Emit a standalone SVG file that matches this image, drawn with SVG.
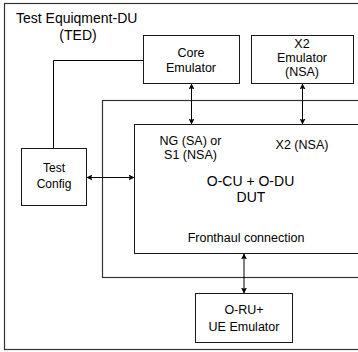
<svg xmlns="http://www.w3.org/2000/svg" width="358" height="352" viewBox="0 0 358 352">
<defs>
<style>
.box{fill:#fff;stroke:#1a1a1a;stroke-width:1}
.frame{fill:none;stroke:#333;stroke-width:1.2}
.t{font-family:"Liberation Sans",Arial,sans-serif;font-size:12.5px;fill:#000;text-anchor:middle}
.big{font-size:14px}
.ln{fill:none;stroke:#000;stroke-width:1}
</style>
<marker id="ah" viewBox="0 0 10 10" refX="9" refY="5" markerWidth="6" markerHeight="6" orient="auto-start-reverse" markerUnits="userSpaceOnUse">
<path d="M0,0 L10,5 L0,10 L2,5 z" fill="#000"/>
</marker>
</defs>
<rect width="358" height="352" fill="#fff"/>
<g id="ted">
<rect class="frame" x="4.5" y="3.5" width="360" height="346"/>
<text class="t big" x="16" y="23" style="text-anchor:start">Test Equiqment-DU</text>
<text class="t big" x="78" y="40">(TED)</text>
</g>
<g id="frame">
<rect class="frame" x="102.5" y="100.5" width="270" height="177"/>
</g>
<g id="core">
<rect class="box" x="143.5" y="35.5" width="96" height="48"/>
<text class="t" x="191" y="57">Core</text>
<text class="t" x="191" y="72">Emulator</text>
</g>
<g id="x2emu">
<rect class="box" x="251.5" y="35.5" width="102" height="48"/>
<text class="t" x="302" y="48">X2</text>
<text class="t" x="302" y="62">Emulator</text>
<text class="t" x="302" y="76">(NSA)</text>
</g>
<g id="dut">
<rect class="box" x="134.5" y="124.5" width="240" height="129"/>
<text class="t" x="190.5" y="145">NG (SA) or</text>
<text class="t" x="190.5" y="159">S1 (NSA)</text>
<text class="t" x="302" y="149">X2 (NSA)</text>
<text class="t big" x="250.5" y="186">O-CU + O-DU</text>
<text class="t big" x="251" y="202">DUT</text>
<text class="t" x="246" y="242">Fronthaul connection</text>
</g>
<g id="testconfig">
<rect class="box" x="21.5" y="148.5" width="65" height="57"/>
<text class="t" x="54" y="172" style="font-size:12px">Test</text>
<text class="t" x="54" y="188" style="font-size:12px">Config</text>
</g>
<g id="oru">
<rect class="box" x="195.5" y="293.5" width="97" height="49"/>
<text class="t" x="244" y="314">O-RU+</text>
<text class="t" x="244" y="331">UE Emulator</text>
</g>
<g id="connectors">
<polyline class="ln" points="53.5,148 53.5,60.5 143,60.5"/>
<line class="ln" x1="87" y1="177.5" x2="134" y2="177.5" marker-start="url(#ah)" marker-end="url(#ah)"/>
<line class="ln" x1="191.5" y1="84" x2="191.5" y2="124" marker-start="url(#ah)" marker-end="url(#ah)"/>
<line class="ln" x1="302.5" y1="84" x2="302.5" y2="124" marker-start="url(#ah)" marker-end="url(#ah)"/>
<line class="ln" x1="244" y1="254" x2="244" y2="293" marker-start="url(#ah)" marker-end="url(#ah)"/>
</g>
</svg>
